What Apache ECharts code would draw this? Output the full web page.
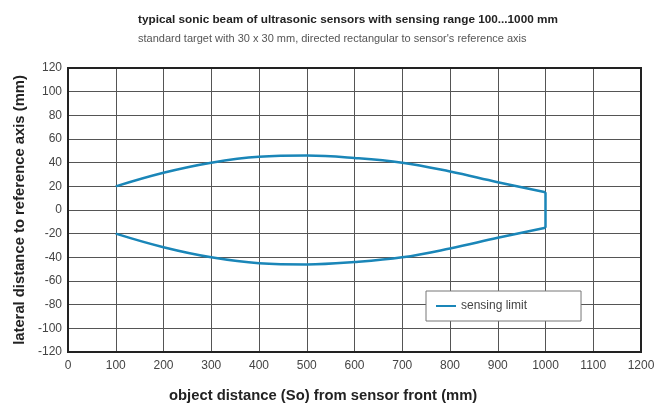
<!DOCTYPE html>
<html>
<head>
<meta charset="utf-8">
<script src="https://cdn.jsdelivr.net/npm/echarts@6/dist/echarts.min.js"></script>
<style>
  html, body { margin: 0; padding: 0; background: #fff; }
  #chart { width: 660px; height: 403px; }
</style>
</head>
<body>
<div id="chart"></div>
<script>
// object distance (mm)
var distUpper = [100, 200, 300, 400, 500, 600, 700, 800, 900, 1000];
// lateral distance (mm), upper limit of the beam
var latUpper = [20, 31.5, 40, 45, 46, 44, 40, 32.5, 23.5, 15];
// lower limit is the mirror image
var latLower = [-20, -31.5, -40, -45, -46, -44, -40, -32.5, -23.5, -15];

var lineColor = "#1a86b8";
var font = "'Liberation Sans', Arial, sans-serif";

var myChart = echarts.init(document.getElementById("chart"));

var upperPts = distUpper.map(function (d, i) { return [d, latUpper[i]]; });
var lowerPts = distUpper.map(function (d, i) { return [d, latLower[i]]; });
var edgePts = [upperPts[upperPts.length - 1], lowerPts[lowerPts.length - 1]];

var lineCommon = {
  type: "line",
  name: "sensing limit",
  showSymbol: false,
  symbol: "none",
  lineStyle: { color: lineColor, width: 2.5 },
  itemStyle: { color: lineColor },
  animation: false
};

var option = {
  animation: false,
  textStyle: { fontFamily: font },
  title: [
    {
      text: "typical sonic beam of ultrasonic sensors with sensing range 100...1000 mm",
      left: 133,
      top: 9,
      textStyle: { fontSize: 11.75, fontWeight: "bold", color: "#222", fontFamily: font }
    },
    {
      text: "standard target with 30 x 30 mm, directed rectangular to sensor's reference axis",
      left: 133,
      top: 28,
      textStyle: { fontSize: 11, fontWeight: "normal", color: "#555", fontFamily: font }
    }
  ],
  grid: { left: 68, right: 19, top: 68, bottom: 51 },
  legend: {
    data: ["sensing limit"],
    left: 426,
    top: 291,
    width: 140,
    padding: [9, 54, 9, 10],
    backgroundColor: "#fff",
    borderColor: "#777",
    borderWidth: 1,
    borderRadius: 0,
    itemWidth: 20,
    itemHeight: 2,
    itemGap: 10,
    icon: "rect",
    textStyle: { fontSize: 12, color: "#444", fontFamily: font }
  },
  xAxis: {
    type: "value",
    min: 0,
    max: 1200,
    interval: 100,
    axisLine: { show: false },
    axisTick: { show: false },
    axisLabel: { color: "#444", fontSize: 12, margin: 8, formatter: function (v) { return String(v); } },
    splitLine: { show: true, lineStyle: { color: "#555", width: 1 } }
  },
  yAxis: {
    type: "value",
    min: -120,
    max: 120,
    interval: 20,
    name: "lateral distance to reference axis (mm)",
    nameLocation: "middle",
    nameGap: 41,
    nameTextStyle: { fontSize: 14.8, fontWeight: "bold", color: "#222" },
    axisLine: { show: false },
    axisTick: { show: false },
    axisLabel: { color: "#444", fontSize: 12, margin: 6, formatter: function (v) { return String(v); } },
    splitLine: { show: true, lineStyle: { color: "#555", width: 1 } }
  },
  graphic: [
    {
      type: "rect",
      shape: { x: 68, y: 68, width: 573, height: 284 },
      style: { fill: "none", stroke: "#222", lineWidth: 2 },
      z: 100,
      silent: true
    },
    {
      type: "text",
      left: 169,
      top: 388,
      style: {
        text: "object distance (So) from sensor front (mm)",
        fontSize: 14.8,
        fontWeight: "bold",
        fill: "#222",
        fontFamily: font
      }
    }
  ],
  series: [
    Object.assign({}, lineCommon, { data: upperPts, smooth: 0.4 }),
    Object.assign({}, lineCommon, { data: edgePts, smooth: false }),
    Object.assign({}, lineCommon, { data: lowerPts, smooth: 0.4 })
  ]
};

myChart.setOption(option);
</script>
</body>
</html>
